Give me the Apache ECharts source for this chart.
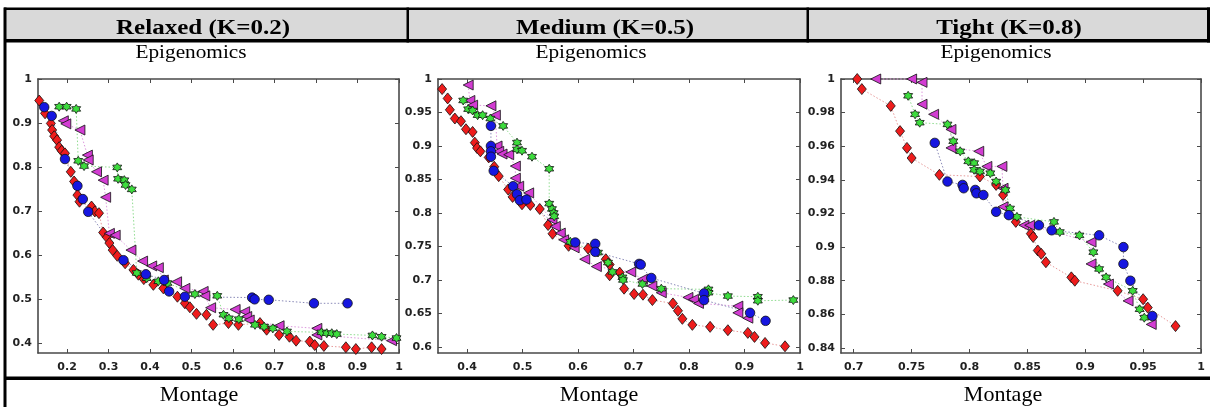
<!DOCTYPE html>
<html>
<head>
<meta charset="utf-8">
<script src="https://cdn.jsdelivr.net/npm/echarts@6/dist/echarts.min.js"></script>
<style>
html,body{margin:0;padding:0;background:#fff;}
#chart{width:1210px;height:407px;}
</style>
</head>
<body>
<div id="chart"></div>
<script>
// ---------- texts ----------
const panelTitles = ['Relaxed (K=0.2)', 'Medium (K=0.5)', 'Tight (K=0.8)'];
const topWorkflow = 'Epigenomics';
const bottomWorkflow = 'Montage';

// ---------- tick labels ----------
const p1XTicks = [0.2, 0.3, 0.4, 0.5, 0.6, 0.7, 0.8, 0.9, 1];
const p1YTicks = [0.4, 0.5, 0.6, 0.7, 0.8, 0.9, 1];
const p2XTicks = [0.4, 0.5, 0.6, 0.7, 0.8, 0.9, 1];
const p2YTicks = [0.6, 0.65, 0.7, 0.75, 0.8, 0.85, 0.9, 0.95, 1];
const p3XTicks = [0.7, 0.75, 0.8, 0.85, 0.9, 0.95, 1];
const p3YTicks = [0.84, 0.86, 0.88, 0.9, 0.92, 0.94, 0.96, 0.98, 1];

// ---------- panel 1 (Relaxed) ----------
const p1Red = [[0.133,0.951],[0.147,0.922],[0.161,0.899],[0.164,0.884],[0.169,0.870],[0.176,0.861],[0.181,0.845],[0.187,0.837],[0.195,0.831],[0.209,0.789],[0.217,0.767],[0.225,0.736],[0.230,0.721],[0.259,0.710],[0.267,0.699],[0.277,0.695],[0.287,0.651],[0.296,0.640],[0.302,0.627],[0.310,0.611],[0.321,0.598],[0.340,0.581],[0.360,0.566],[0.372,0.555],[0.385,0.545],[0.408,0.532],[0.432,0.524],[0.466,0.505],[0.484,0.490],[0.496,0.481],[0.512,0.466],[0.536,0.464],[0.552,0.441],[0.589,0.445],[0.613,0.441],[0.665,0.445],[0.681,0.430],[0.711,0.418],[0.736,0.414],[0.752,0.405],[0.785,0.403],[0.797,0.395],[0.819,0.393],[0.872,0.390],[0.896,0.386],[0.934,0.390],[0.958,0.386]];
const p1Blue = [[0.145,0.936],[0.163,0.916],[0.195,0.818],[0.225,0.757],[0.238,0.727],[0.251,0.698],[0.336,0.588],[0.390,0.556],[0.434,0.543],[0.446,0.517],[0.484,0.505],[0.646,0.503],[0.652,0.499],[0.686,0.498],[0.795,0.490],[0.876,0.490]];
const p1Green = [[0.181,0.937],[0.199,0.937],[0.222,0.932],[0.227,0.814],[0.241,0.802],[0.321,0.799],[0.323,0.773],[0.338,0.770],[0.341,0.759],[0.356,0.749],[0.368,0.559],[0.392,0.547],[0.420,0.540],[0.442,0.536],[0.508,0.511],[0.562,0.507],[0.577,0.464],[0.590,0.456],[0.614,0.454],[0.653,0.441],[0.675,0.437],[0.696,0.433],[0.730,0.426],[0.813,0.424],[0.826,0.422],[0.838,0.422],[0.850,0.420],[0.936,0.417],[0.958,0.414],[0.994,0.411]];
const p1Magenta = [[0.191,0.905],[0.197,0.898],[0.231,0.884],[0.249,0.827],[0.251,0.816],[0.271,0.789],[0.287,0.770],[0.293,0.731],[0.302,0.649],[0.316,0.645],[0.354,0.611],[0.382,0.586],[0.404,0.575],[0.420,0.571],[0.432,0.543],[0.464,0.539],[0.484,0.524],[0.528,0.517],[0.532,0.507],[0.546,0.480],[0.605,0.476],[0.628,0.471],[0.633,0.460],[0.639,0.452],[0.711,0.439],[0.802,0.433],[0.802,0.418],[0.982,0.405]];

// ---------- panel 2 (Medium) ----------
const p2Red = [[0.355,0.985],[0.365,0.971],[0.369,0.954],[0.378,0.941],[0.389,0.937],[0.398,0.925],[0.410,0.921],[0.414,0.905],[0.418,0.897],[0.424,0.892],[0.439,0.883],[0.449,0.869],[0.457,0.855],[0.474,0.835],[0.482,0.824],[0.499,0.813],[0.514,0.812],[0.531,0.806],[0.546,0.782],[0.554,0.769],[0.583,0.751],[0.618,0.747],[0.650,0.731],[0.657,0.723],[0.657,0.707],[0.675,0.711],[0.683,0.687],[0.701,0.679],[0.717,0.678],[0.734,0.670],[0.771,0.665],[0.780,0.654],[0.788,0.642],[0.806,0.633],[0.838,0.630],[0.870,0.625],[0.906,0.621],[0.918,0.615],[0.937,0.606],[0.973,0.601]];
const p2Blue = [[0.443,0.930],[0.443,0.900],[0.443,0.892],[0.443,0.884],[0.448,0.863],[0.483,0.840],[0.490,0.828],[0.495,0.819],[0.507,0.820],[0.595,0.756],[0.631,0.754],[0.631,0.742],[0.710,0.724],[0.713,0.723],[0.732,0.703],[0.827,0.680],[0.827,0.670],[0.910,0.651],[0.938,0.639]];
const p2Green = [[0.393,0.968],[0.402,0.955],[0.410,0.953],[0.419,0.946],[0.428,0.946],[0.442,0.941],[0.465,0.930],[0.490,0.905],[0.490,0.895],[0.499,0.893],[0.517,0.884],[0.548,0.866],[0.548,0.814],[0.553,0.806],[0.556,0.800],[0.557,0.795],[0.586,0.757],[0.636,0.741],[0.654,0.726],[0.662,0.712],[0.680,0.704],[0.681,0.700],[0.716,0.694],[0.750,0.687],[0.835,0.686],[0.835,0.681],[0.870,0.676],[0.924,0.675],[0.924,0.669],[0.988,0.670]];
const p2Magenta = [[0.402,0.991],[0.405,0.968],[0.410,0.961],[0.443,0.960],[0.451,0.946],[0.454,0.900],[0.457,0.892],[0.463,0.888],[0.475,0.887],[0.487,0.870],[0.487,0.852],[0.493,0.840],[0.511,0.830],[0.553,0.790],[0.559,0.780],[0.568,0.770],[0.574,0.760],[0.593,0.748],[0.612,0.731],[0.633,0.720],[0.695,0.712],[0.716,0.701],[0.733,0.691],[0.750,0.681],[0.798,0.674],[0.808,0.671],[0.817,0.665],[0.888,0.661],[0.888,0.651],[0.906,0.643]];

// ---------- panel 3 (Tight) ----------
const p3Red = [[0.703,1.000],[0.707,0.994],[0.732,0.984],[0.740,0.969],[0.746,0.959],[0.750,0.953],[0.774,0.943],[0.809,0.942],[0.823,0.937],[0.829,0.931],[0.840,0.915],[0.853,0.908],[0.855,0.906],[0.859,0.898],[0.862,0.896],[0.866,0.891],[0.888,0.882],[0.891,0.880],[0.928,0.874],[0.950,0.869],[0.954,0.864],[0.978,0.853]];
const p3Blue = [[0.770,0.962],[0.781,0.939],[0.794,0.937],[0.795,0.935],[0.805,0.934],[0.806,0.932],[0.812,0.931],[0.823,0.921],[0.834,0.919],[0.860,0.913],[0.871,0.910],[0.912,0.907],[0.933,0.900],[0.933,0.890],[0.939,0.880],[0.958,0.859]];
const p3Green = [[0.747,0.990],[0.753,0.979],[0.757,0.974],[0.781,0.973],[0.786,0.963],[0.792,0.957],[0.799,0.951],[0.804,0.950],[0.804,0.946],[0.809,0.945],[0.818,0.944],[0.823,0.939],[0.831,0.934],[0.835,0.923],[0.841,0.918],[0.873,0.915],[0.878,0.909],[0.895,0.907],[0.907,0.897],[0.912,0.887],[0.918,0.882],[0.941,0.874],[0.947,0.863],[0.951,0.858]];
const p3Magenta = [[0.719,1.000],[0.750,1.000],[0.759,0.998],[0.759,0.985],[0.769,0.979],[0.784,0.970],[0.784,0.959],[0.808,0.957],[0.815,0.948],[0.828,0.948],[0.829,0.935],[0.829,0.924],[0.847,0.913],[0.852,0.913],[0.905,0.903],[0.905,0.890],[0.920,0.878],[0.937,0.868],[0.957,0.854]];

// ---------- build ----------
const STAR = 'path://M0,-10L2.9,-5L8.66,-5L5.8,0L8.66,5L2.9,5L0,10L-2.9,5L-8.66,5L-5.8,0L-8.66,-5L-2.9,-5Z';
const styles = {
  red:     {symbol:'diamond', size:[9,11], rotate:0,  color:'#ee1c1c', line:'#e89a9a'},
  magenta: {symbol:'triangle', size:10, rotate:90, color:'#d23cd2', line:'#dd99dd'},
  green:   {symbol:STAR, size:9, rotate:0, color:'#3ddc3d', line:'#8fdc8f'},
  blue:    {symbol:'circle', size:9.5, rotate:0, color:'#1616e0', line:'#8a8ab8'}
};
const panels = [
  {grid:{left:38, top:79, width:361, height:274}, x:[0.13,1.0], y:[0.377,1.0], xt:p1XTicks, yt:p1YTicks,
   data:{red:p1Red, magenta:p1Magenta, green:p1Green, blue:p1Blue}},
  {grid:{left:438, top:79, width:362, height:274}, x:[0.3476,1.0], y:[0.591,1.0], xt:p2XTicks, yt:p2YTicks,
   data:{red:p2Red, magenta:p2Magenta, green:p2Green, blue:p2Blue}},
  {grid:{left:841, top:79, width:360, height:274}, x:[0.689,1.0], y:[0.837,1.0], xt:p3XTicks, yt:p3YTicks,
   data:{red:p3Red, magenta:p3Magenta, green:p3Green, blue:p3Blue}}
];

const axisLine = {show:true, onZero:false, lineStyle:{color:'#4a4a4a', width:1.6}};
const labelStyle = {color:'#222', fontFamily:'DejaVu Sans', fontSize:11, fontWeight:'bold'};
const grids = [], xAxes = [], yAxes = [], series = [];
panels.forEach((p, i) => {
  grids.push(Object.assign({containLabel:false}, p.grid));
  const xb = xAxes.length, yb = yAxes.length;
  xAxes.push({type:'value', gridIndex:i, position:'bottom', min:p.x[0], max:p.x[1], splitLine:{show:false}, axisLine,
    axisTick:{show:true, inside:true, length:4, customValues:p.xt, lineStyle:{color:'#4a4a4a'}},
    axisLabel:Object.assign({show:true, margin:9, customValues:p.xt}, labelStyle)});
  xAxes.push({type:'value', gridIndex:i, position:'top', min:p.x[0], max:p.x[1], splitLine:{show:false}, axisLine,
    axisTick:{show:true, inside:true, length:4, customValues:p.xt, lineStyle:{color:'#4a4a4a'}},
    axisLabel:{show:false}});
  yAxes.push({type:'value', gridIndex:i, position:'left', min:p.y[0], max:p.y[1], splitLine:{show:false}, axisLine,
    axisTick:{show:true, inside:true, length:4, customValues:p.yt, lineStyle:{color:'#4a4a4a'}},
    axisLabel:Object.assign({show:true, margin:6, customValues:p.yt}, labelStyle)});
  yAxes.push({type:'value', gridIndex:i, position:'right', min:p.y[0], max:p.y[1], splitLine:{show:false}, axisLine,
    axisTick:{show:true, inside:true, length:4, customValues:p.yt, lineStyle:{color:'#4a4a4a'}},
    axisLabel:{show:false}});
  ['red','magenta','green','blue'].forEach(k => {
    const s = styles[k];
    series.push({type:'line', xAxisIndex:xb, yAxisIndex:yb, data:p.data[k],
      symbol:s.symbol, symbolSize:s.size, symbolRotate:s.rotate, showAllSymbol:true, clip:false,
      lineStyle:{color:s.line, width:1, type:[1.5,2]},
      itemStyle:{color:s.color, borderColor:'#111', borderWidth:0.8},
      emphasis:{disabled:true}, animation:false});
  });
});

// table frame + titles
const colCenters = [203, 605, 1009];
const subCenters = [191, 591, 996];
const botCenters = [199, 599, 1003];
const g = [];
g.push({type:'rect', shape:{x:4, y:10, width:1206, height:30}, style:{fill:'#d9d9d9'}, z:0});
g.push({type:'rect', shape:{x:4, y:7.5, width:1206, height:2.5}, style:{fill:'#000'}});
g.push({type:'rect', shape:{x:4, y:39, width:1206, height:3.5}, style:{fill:'#000'}});
g.push({type:'rect', shape:{x:3.5, y:7.5, width:3, height:400}, style:{fill:'#000'}});
g.push({type:'rect', shape:{x:1207, y:7.5, width:3, height:35}, style:{fill:'#000'}});
g.push({type:'rect', shape:{x:406.5, y:7.5, width:2.5, height:35}, style:{fill:'#000'}});
g.push({type:'rect', shape:{x:806.5, y:7.5, width:2.5, height:35}, style:{fill:'#000'}});
g.push({type:'rect', shape:{x:4, y:376.5, width:1206, height:3.5}, style:{fill:'#000'}});
panelTitles.forEach((t, i) => {
  g.push({type:'text', x:colCenters[i], y:29, scaleX:1.25, style:{text:t, font:'bold 20px "Liberation Serif"', fill:'#000', textAlign:'center', textVerticalAlign:'middle'}});
  g.push({type:'text', x:subCenters[i], y:53, scaleX:1.12, style:{text:topWorkflow, font:'19px "Liberation Serif"', fill:'#000', textAlign:'center', textVerticalAlign:'middle'}});
  g.push({type:'text', x:botCenters[i], y:395, scaleX:1.05, style:{text:bottomWorkflow, font:'21px "Liberation Serif"', fill:'#000', textAlign:'center', textVerticalAlign:'middle'}});
});

const chart = echarts.init(document.getElementById('chart'), null, {renderer:'canvas'});
chart.setOption({animation:false, backgroundColor:'#fff', grid:grids, xAxis:xAxes, yAxis:yAxes, series, graphic:{elements:g}});
</script>
</body>
</html>
